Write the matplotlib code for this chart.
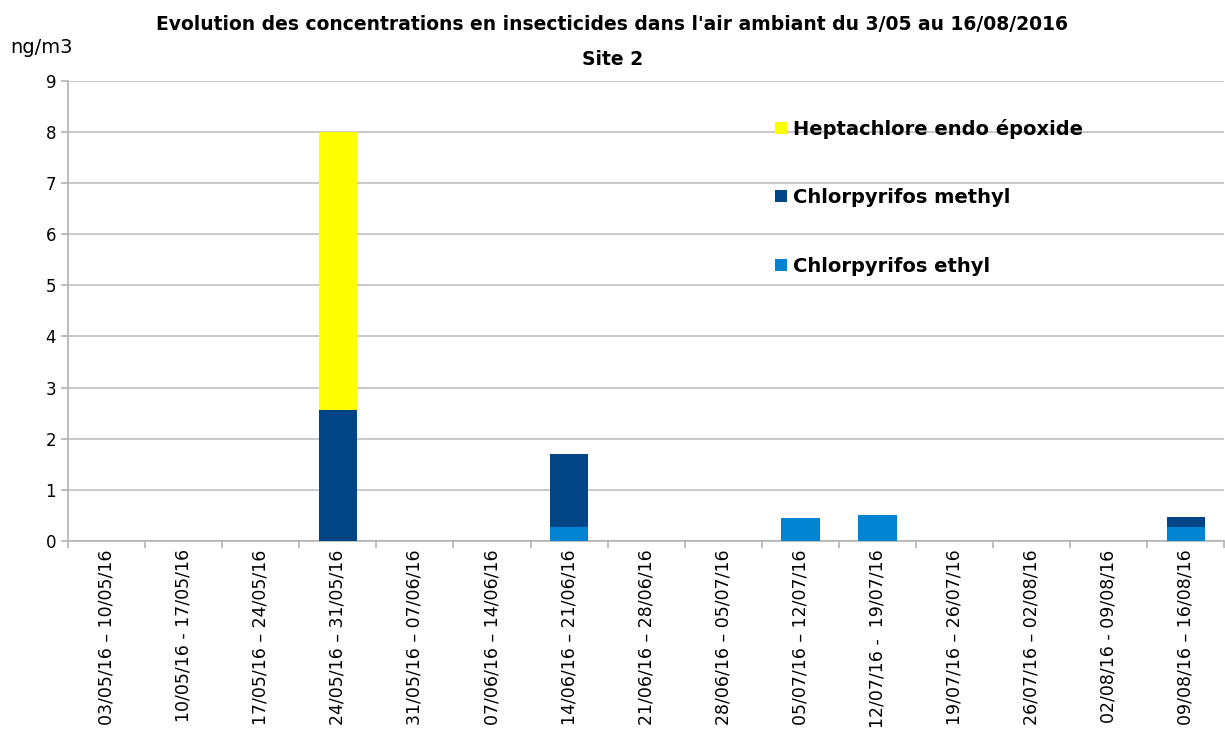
import matplotlib.pyplot as plt
import numpy as np

periodes = ['03/05/16 – 10/05/16', '10/05/16 - 17/05/16', '17/05/16 – 24/05/16',
            '24/05/16 – 31/05/16', '31/05/16 – 07/06/16', '07/06/16 – 14/06/16',
            '14/06/16 – 21/06/16', '21/06/16 – 28/06/16', '28/06/16 – 05/07/16',
            '05/07/16 – 12/07/16', '12/07/16 -  19/07/16', '19/07/16 – 26/07/16',
            '26/07/16 – 02/08/16', '02/08/16 - 09/08/16', '09/08/16 – 16/08/16']
ethyl = [0, 0, 0, 0, 0, 0, 0.27, 0, 0, 0.45, 0.51, 0, 0, 0, 0.27]
methyl = [0, 0, 0, 2.56, 0, 0, 1.43, 0, 0, 0, 0, 0, 0, 0, 0.2]
heptachlore = [0, 0, 0, 5.44, 0, 0, 0, 0, 0, 0, 0, 0, 0, 0, 0]

plt.rcParams['font.family'] = ['DejaVu Sans']

fig = plt.figure(figsize=(12.25, 7.29), dpi=100)
ax = fig.add_axes([0.0555, 0.258, 0.944, 0.631])

x = np.arange(len(periodes))
ethyl = np.array(ethyl)
methyl = np.array(methyl)
heptachlore = np.array(heptachlore)

b1 = ax.bar(x, ethyl, width=0.5, color='#0084d1', label='Chlorpyrifos ethyl', zorder=3)
b2 = ax.bar(x, methyl, width=0.5, bottom=ethyl, color='#004586', label='Chlorpyrifos methyl', zorder=3)
b3 = ax.bar(x, heptachlore, width=0.5, bottom=ethyl + methyl, color='#ffff00',
            label='Heptachlore endo époxide', zorder=3)

ax.set_xlim(-0.5, len(periodes) - 0.5)
ax.set_ylim(0, 9)
ax.set_yticks(range(10))
ax.yaxis.grid(True, color='#c0c0c0', linewidth=1.2, zorder=0)
ax.set_axisbelow(True)

ax.set_xticks(x)
ax.set_xticklabels(periodes, rotation=90, fontsize=12.5)
ax.set_xticks(np.arange(-0.5, len(periodes)), minor=True)
ax.tick_params(axis='x', which='major', length=0, pad=6)
ax.tick_params(axis='x', which='minor', length=5, color='#b3b3b3', width=1.2)
ax.tick_params(axis='y', labelsize=12, length=5, color='#b3b3b3', width=1.2)

for s in ['top', 'right']:
    ax.spines[s].set_visible(False)
for s in ['left', 'bottom']:
    ax.spines[s].set_color('#b3b3b3')
    ax.spines[s].set_linewidth(1.2)

fig.text(0.5, 0.967, "Evolution des concentrations en insecticides dans l'air ambiant du 3/05 au 16/08/2016",
         ha='center', va='center', fontsize=13.5, fontweight='bold')
fig.text(0.5, 0.918, 'Site 2', ha='center', va='center', fontsize=13.5, fontweight='bold')
fig.text(0.008, 0.935, 'ng/m3', ha='left', va='center', fontsize=14)

leg = ax.legend(handles=[b3, b2, b1], loc='upper left', bbox_to_anchor=(0.605, 0.935),
                frameon=False, handlelength=0.6, handleheight=0.6,
                handletextpad=0.3, labelspacing=2.55, borderaxespad=0,
                prop={'size': 14, 'weight': 'bold'})

fig.savefig('out.png', dpi=100)
